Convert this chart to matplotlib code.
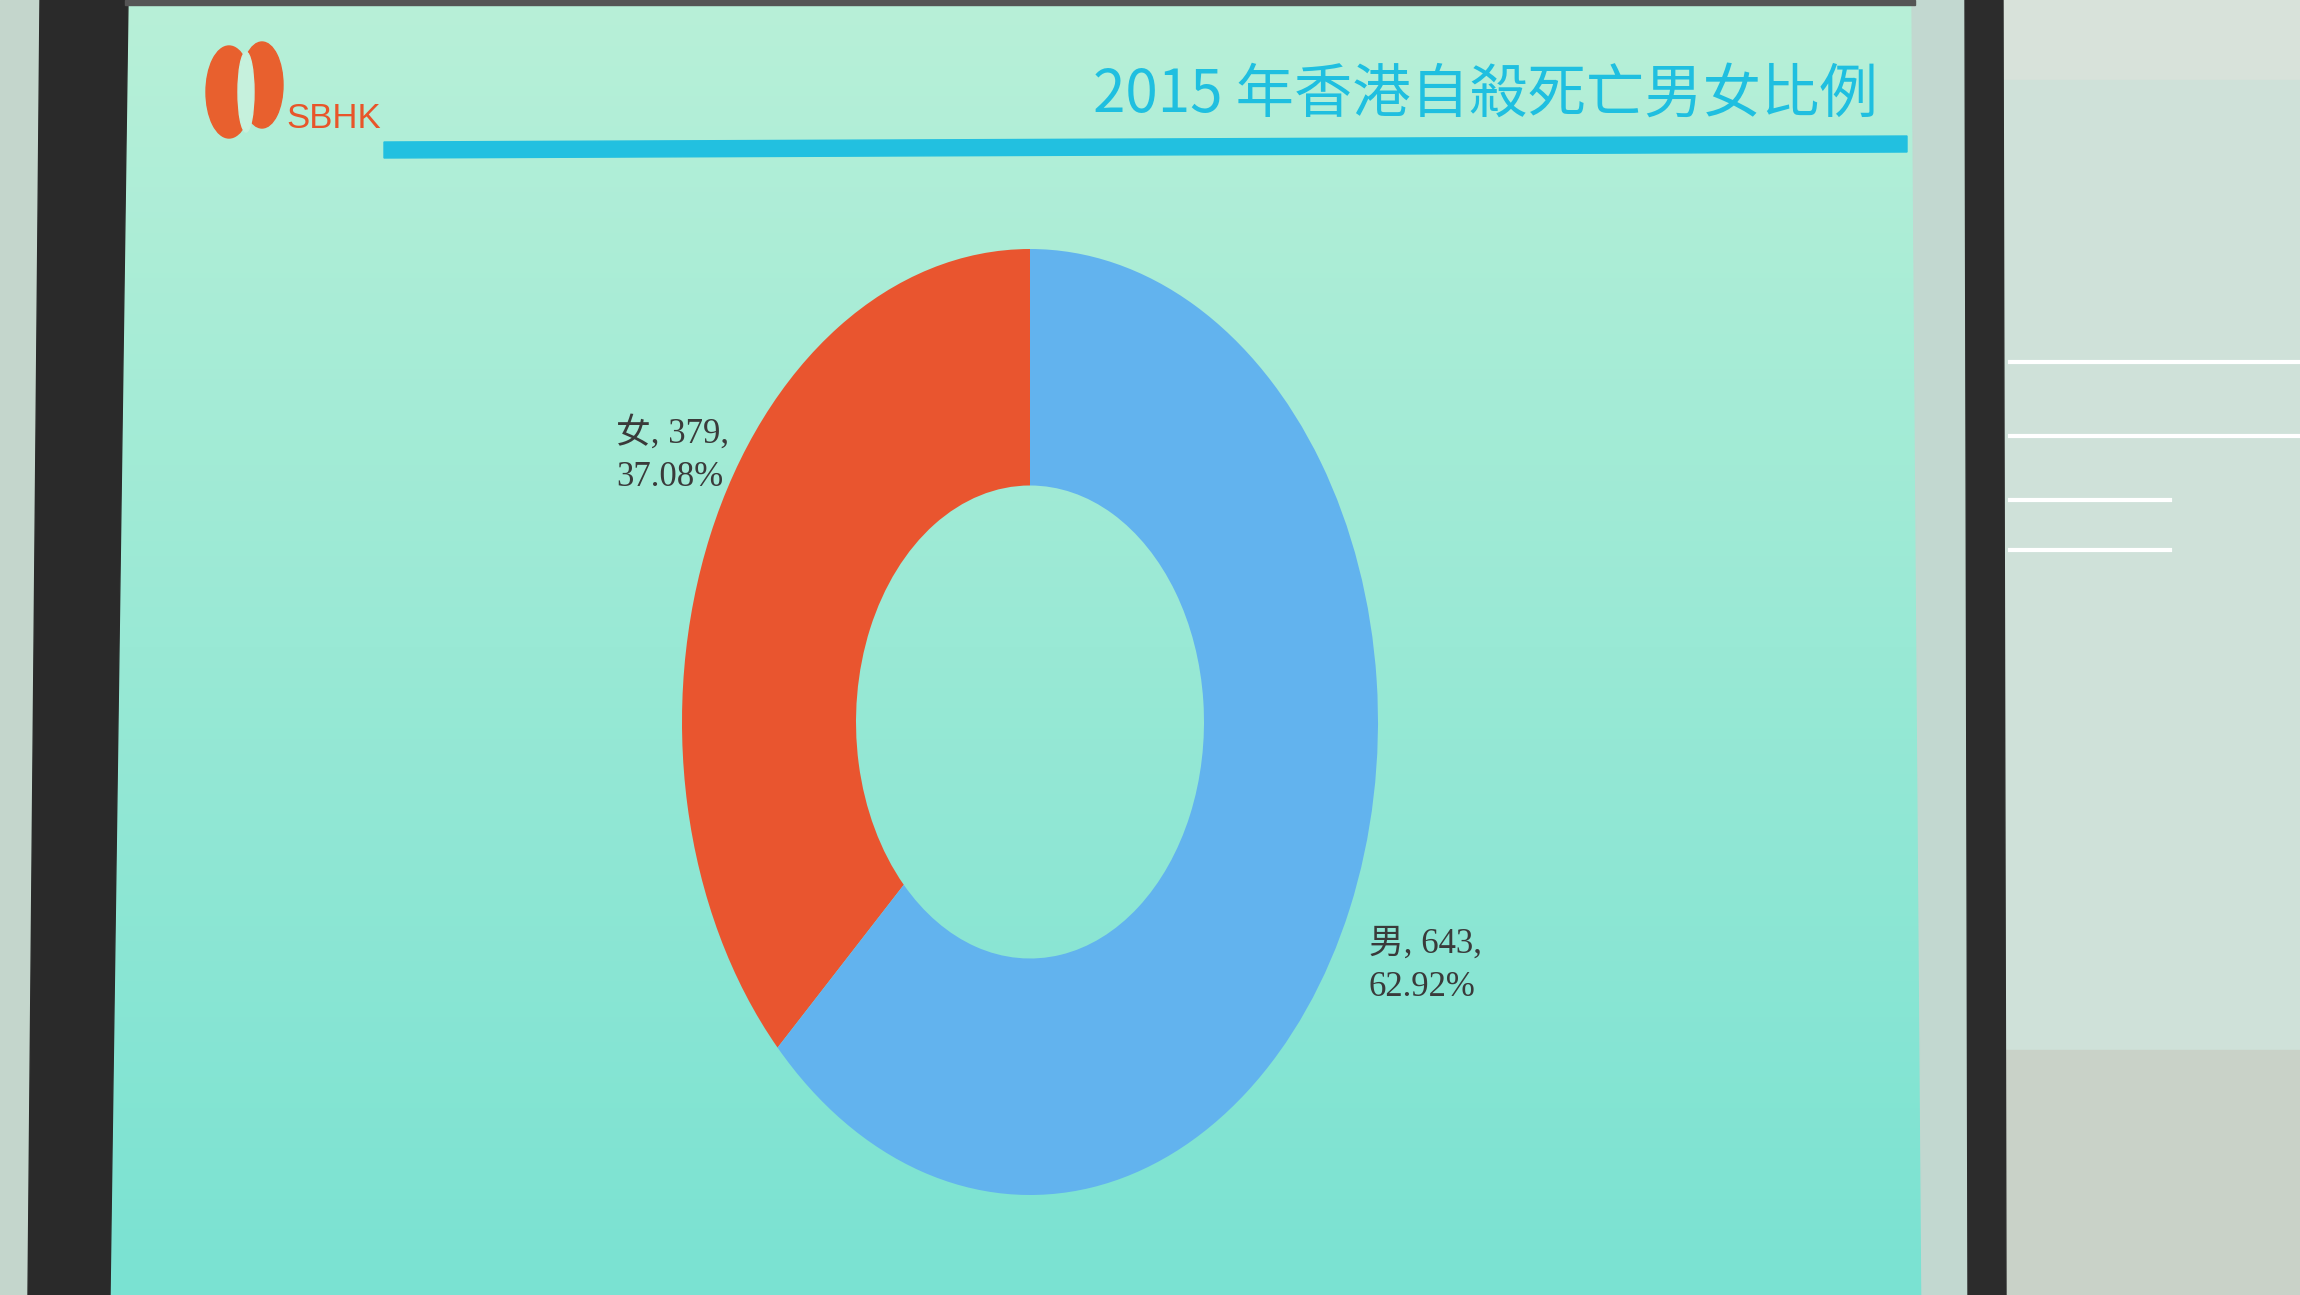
import numpy as np
import matplotlib
matplotlib.use("Agg")
import matplotlib.pyplot as plt
from matplotlib.patches import Ellipse, Polygon, Rectangle

plt.rcParams['font.family'] = ['Noto Sans CJK TC', 'DejaVu Sans']

# data
title = "2015 年香港自殺死亡男女比例"
labels = ["女", "男"]
counts = [379, 643]
colors = ["#e9552f", "#62b3ee"]

total = sum(counts)
pcts = [c / total * 100 for c in counts]

W, H = 2300, 1295
fig = plt.figure(figsize=(23, 12.95), dpi=100)

# background axes in pixel coordinates (photo of the projected slide)
bg = fig.add_axes([0, 0, 1, 1])
bg.set_xlim(0, W)
bg.set_ylim(H, 0)
bg.axis("off")

# walls either side of the screen
bg.add_patch(Rectangle((0, 0), W, H, color="#c4d6cc", zorder=0))
bg.add_patch(Rectangle((2000, 0), 300, 80, color="#d8e2da", zorder=0))
bg.add_patch(Rectangle((2000, 80), 300, 970, color="#cfe1d9", zorder=0))
for y in [362, 436, 500, 550]:
    bg.plot([2010, 2300 if y < 450 else 2170], [y, y], color="white", lw=3, zorder=0)
bg.add_patch(Rectangle((2000, 1050), 300, 245, color="#c9d2c8", zorder=0))
# slide with a soft vertical gradient
grad = np.linspace(0, 1, 256)[:, None]
top = np.array([184, 240, 216]) / 255
bot = np.array([122, 226, 210]) / 255
img = top[None, None, :] * (1 - grad[..., None]) + bot[None, None, :] * grad[..., None]
img = np.repeat(img, 2, axis=1)
slide = Polygon([(125, 0), (1912, 0), (1922, H), (110, H)], closed=True,
                facecolor="none", edgecolor="none")
bg.add_patch(slide)
im = bg.imshow(img, extent=(100, 1925, H, 0), aspect="auto", zorder=1)
im.set_clip_path(slide)
# screen border and dark frame
bg.add_patch(Polygon([(40, 0), (128, 0), (110, H), (28, H)], closed=True,
                     color="#2a2a2a", zorder=2))
bg.add_patch(Polygon([(1912, 0), (1965, 0), (1968, H), (1922, H)], closed=True,
                     color="#c2d8d0", zorder=2))
bg.add_patch(Polygon([(1965, 0), (2003, 0), (2006, H), (1968, H)], closed=True,
                     color="#2c2c2c", zorder=2))
bg.add_patch(Rectangle((125, 0), 1790, 5, color="#555555", zorder=2))

# header: logo, title, underline
bg.add_patch(Ellipse((229, 92), 46, 92, color="#e8602e", zorder=3))
bg.add_patch(Ellipse((262, 85), 42, 86, color="#e8602e", zorder=3))
bg.add_patch(Ellipse((246, 92), 16, 80, color="#c6f1dd", zorder=4))
bg.text(286, 118, "SBHK", fontsize=25, color="#e8552a", ha="left", va="center",
        family=["Liberation Sans", "DejaVu Sans"], zorder=5)
bg.text(1878, 95, title, fontsize=42, color="#1fbfe0", ha="right", va="center",
        fontweight="medium", zorder=5)
bg.add_patch(Polygon([(384, 142), (1907, 136), (1907, 152), (384, 158)],
                     closed=True, color="#22c0e0", zorder=3))

# donut chart (photo makes it look stretched vertically)
cx, cy, rx, ry = 1030, 722, 348, 473
ax = fig.add_axes([(cx - rx) / W, 1 - (cy + ry) / H, 2 * rx / W, 2 * ry / H])
ax.pie(counts, colors=colors, startangle=90, counterclock=True, radius=1,
       wedgeprops=dict(width=0.5, edgecolor="none"))
ax.set_aspect("auto")
ax.set_xlim(-1, 1)
ax.set_ylim(-1, 1)
ax.patch.set_visible(False)

# data labels
label_pos = [(616, 455), (1369, 966)]
for name, n, p, (x, y) in zip(labels, counts, pcts, label_pos):
    bg.text(x, y, f"{name}, {n},\n{p:.2f}%", fontsize=25, color="#3a3a3a",
            ha="left", va="center", linespacing=1.4,
            family=["Liberation Serif", "Noto Sans CJK TC"], zorder=5)

plt.savefig("out.png", dpi=100)
